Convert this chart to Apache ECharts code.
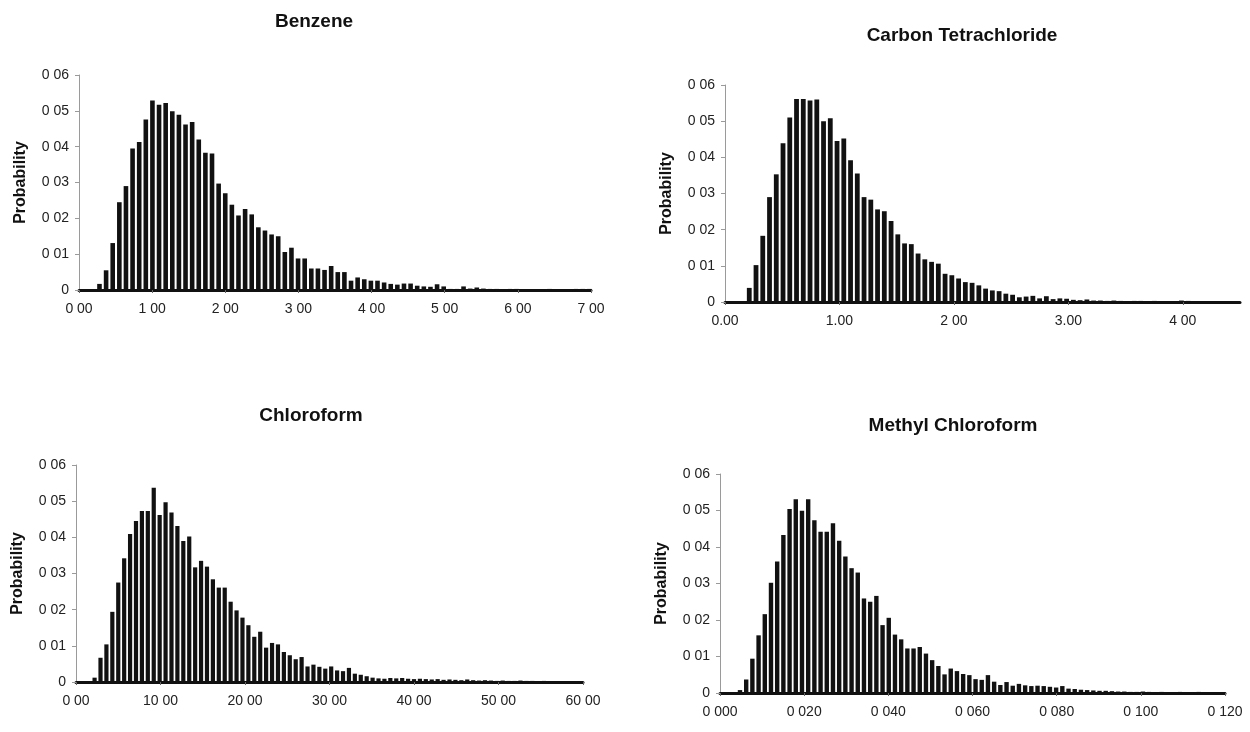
<!DOCTYPE html>
<html>
<head>
<meta charset="utf-8">
<title>Probability distributions</title>
<script src="https://cdn.jsdelivr.net/npm/echarts@6/dist/echarts.min.js"></script>
<style>
  html, body { margin: 0; padding: 0; background: #fff; }
  #chart { width: 1250px; height: 732px; }
</style>
</head>
<body>
<div id="chart"></div>
<script>
  // tick labels as printed on the scanned figure
  const probTicks = ['0', '0 01', '0 02', '0 03', '0 04', '0 05', '0 06']
  const benzeneTicks = ['0 00', '1 00', '2 00', '3 00', '4 00', '5 00', '6 00', '7 00']
  const carbonTicks = ['0.00', '1.00', '2 00', '3.00', '4 00']
  const chloroformTicks = ['0 00', '10 00', '20 00', '30 00', '40 00', '50 00', '60 00']
  const methylTicks = ['0 000', '0 020', '0 040', '0 060', '0 080', '0 100', '0 120']

  // histogram bins: first bin centre and bin width
  const benzeneStart = 0.28
  const benzeneStep = 0.0905
  const carbonStart = 0.212
  const carbonStep = 0.059
  const chloroformStart = 2.2
  const chloroformStep = 0.7
  const methylStart = 0.00475
  const methylStep = 0.001473

  // probabilities
  const benzeneProb = [
    0.0017, 0.0055, 0.0131, 0.0245, 0.029, 0.0395, 0.0413, 0.0476, 0.0529, 0.0517,
    0.0522, 0.0499, 0.0489, 0.0462, 0.0469, 0.042, 0.0383, 0.0381, 0.0297, 0.027,
    0.0238, 0.0208, 0.0226, 0.0211, 0.0175, 0.0166, 0.0155, 0.015, 0.0106, 0.0118,
    0.0088, 0.0088, 0.006, 0.006, 0.0056, 0.0067, 0.005, 0.005, 0.0026, 0.0035,
    0.003, 0.0026, 0.0026, 0.0021, 0.0017, 0.0015, 0.0018, 0.0018, 0.0012, 0.001,
    0.0009, 0.0016, 0.001, 0.0003, 0.0003, 0.001, 0.0004, 0.0007, 0.0004, 0.0003,
    0.0003, 0.0002, 0.0003, 0.0003, 0.0002, 0.0002, 0.0001, 0.0002, 0.0003, 0.0002,
    0.0001, 0.0002, 0.0003, 0.0003, 0.0003
  ]
  const carbonProb = [
    0.0039, 0.0102, 0.0183, 0.029, 0.0353, 0.0439, 0.051, 0.0561, 0.0561, 0.0557,
    0.056, 0.05, 0.0508, 0.0445, 0.0452, 0.0392, 0.0355, 0.029, 0.0283, 0.0256,
    0.0251, 0.0224, 0.0187, 0.0162, 0.016, 0.0134, 0.0118, 0.0111, 0.0106, 0.0078,
    0.0074, 0.0065, 0.0055, 0.0053, 0.0046, 0.0037, 0.0032, 0.003, 0.0023, 0.002,
    0.0013, 0.0015, 0.0017, 0.001, 0.0016, 0.0008, 0.001, 0.0009, 0.0006, 0.0005,
    0.0007, 0.0004, 0.0004, 0.0003, 0.0004, 0.0003, 0.0002, 0.0003, 0.0003, 0.0002,
    0.0003, 0.0002, 0.0002, 0.0002, 0.0004, 0.0003, 0.0002, 0.0001, 0.0001, 0.0001,
    0.0001, 0.0001, 0.0001
  ]
  const chloroformProb = [
    0.0012, 0.0067, 0.0104, 0.0194, 0.0275, 0.0342, 0.0409, 0.0445, 0.0473, 0.0473,
    0.0537, 0.0462, 0.0497, 0.0469, 0.0431, 0.039, 0.0402, 0.0317, 0.0335, 0.0319,
    0.0284, 0.0261, 0.0261, 0.0222, 0.0198, 0.0178, 0.0157, 0.0125, 0.0139, 0.0095,
    0.0108, 0.0104, 0.0083, 0.0074, 0.0063, 0.0069, 0.0043, 0.0048, 0.0042, 0.0037,
    0.0043, 0.0032, 0.003, 0.0039, 0.0023, 0.002, 0.0016, 0.0012, 0.001, 0.0009,
    0.0011, 0.001, 0.0011, 0.0009, 0.0008, 0.0009, 0.0008, 0.0007, 0.0008, 0.0006,
    0.0007, 0.0006, 0.0005, 0.0007, 0.0005, 0.0004, 0.0005, 0.0004, 0.0003, 0.0004,
    0.0003, 0.0003, 0.0004, 0.0003, 0.0003, 0.0002, 0.0003, 0.0002, 0.0002, 0.0002,
    0.0001, 0.0002, 0.0002
  ]
  const methylProb = [
    0.0008, 0.0037, 0.0094, 0.0158, 0.0216, 0.0302, 0.036, 0.0433, 0.0504, 0.0531,
    0.0499, 0.0531, 0.0473, 0.0442, 0.0442, 0.0465, 0.0417, 0.0374, 0.0342, 0.033,
    0.0259, 0.025, 0.0266, 0.0186, 0.0206, 0.016, 0.0147, 0.0122, 0.0122, 0.0126,
    0.0108, 0.009, 0.0074, 0.0051, 0.0067, 0.006, 0.0052, 0.0049, 0.0038, 0.0036,
    0.0049, 0.0031, 0.0022, 0.003, 0.002, 0.0025, 0.0021, 0.0019, 0.002, 0.0019,
    0.0017, 0.0015, 0.0019, 0.0012, 0.0011, 0.0009, 0.0008, 0.0007, 0.0006, 0.0006,
    0.0005, 0.0004, 0.0004, 0.0003, 0.0003, 0.0004, 0.0003, 0.0002, 0.0003, 0.0002,
    0.0002, 0.0003, 0.0002, 0.0002, 0.0003, 0.0002, 0.0002, 0.0002, 0.0002
  ]

  const font = '"Liberation Sans", Arial, sans-serif'

  const panels = [
    { title: 'Benzene', cx: 309, titleTop: 7, grid: { left: 79, top: 75, width: 512, height: 215 },
      max: 7, interval: 1, showMax: true, ticks: benzeneTicks,
      start: benzeneStart, step: benzeneStep, prob: benzeneProb, barWidth: 4.6 },
    { title: 'Carbon Tetrachloride', cx: 957, titleTop: 21, grid: { left: 725, top: 85, width: 515, height: 217 },
      max: 4.5, interval: 1, showMax: false, ticks: carbonTicks,
      start: carbonStart, step: carbonStep, prob: carbonProb, barWidth: 4.8 },
    { title: 'Chloroform', cx: 306, titleTop: 401, grid: { left: 76, top: 465, width: 507, height: 217 },
      max: 60, interval: 10, showMax: true, ticks: chloroformTicks,
      start: chloroformStart, step: chloroformStep, prob: chloroformProb, barWidth: 4.2 },
    { title: 'Methyl Chloroform', cx: 948, titleTop: 411, grid: { left: 720, top: 474, width: 505, height: 219 },
      max: 0.12, interval: 0.02, showMax: true, ticks: methylTicks,
      start: methylStart, step: methylStep, prob: methylProb, barWidth: 4.4 }
  ]

  const chart = echarts.init(document.getElementById('chart'))

  const option = {
    backgroundColor: '#fff',
    animation: false,
    title: panels.map(p => ({
      text: p.title,
      left: p.cx,
      top: p.titleTop,
      textAlign: 'center',
      textStyle: { fontFamily: font, fontSize: 19, fontWeight: 'bold', color: '#111' }
    })),
    grid: panels.map(p => p.grid),
    xAxis: panels.map((p, i) => ({
      type: 'value',
      gridIndex: i,
      min: 0,
      max: p.max,
      interval: p.interval,
      splitLine: { show: false },
      axisLine: { lineStyle: { color: '#111', width: 3 } },
      axisTick: { show: true, length: 3, lineStyle: { color: '#666' } },
      axisLabel: {
        margin: 12,
        fontFamily: font,
        fontSize: 14,
        color: '#222',
        showMaxLabel: p.showMax,
        formatter: v => {
          const k = Math.round(v / p.interval)
          return Math.abs(v - k * p.interval) < p.interval * 1e-6 ? (p.ticks[k] || '') : ''
        }
      }
    })),
    yAxis: panels.map((p, i) => ({
      type: 'value',
      gridIndex: i,
      min: 0,
      max: 0.06,
      interval: 0.01,
      name: 'Probability',
      nameLocation: 'middle',
      nameGap: 50,
      nameTextStyle: { fontFamily: font, fontSize: 16, fontWeight: 'bold', color: '#111' },
      splitLine: { show: false },
      axisLine: { show: true, lineStyle: { color: '#9a9a9a', width: 1 } },
      axisTick: { show: true, length: 4, lineStyle: { color: '#9a9a9a' } },
      axisLabel: {
        margin: 10,
        fontFamily: font,
        fontSize: 14,
        color: '#222',
        formatter: v => probTicks[Math.round(v * 100)]
      }
    })),
    series: panels.map((p, i) => ({
      type: 'bar',
      name: p.title,
      xAxisIndex: i,
      yAxisIndex: i,
      barWidth: p.barWidth,
      itemStyle: { color: '#111' },
      data: p.prob.map((v, k) => [p.start + k * p.step, v])
    }))
  }

  chart.setOption(option)
</script>
</body>
</html>
